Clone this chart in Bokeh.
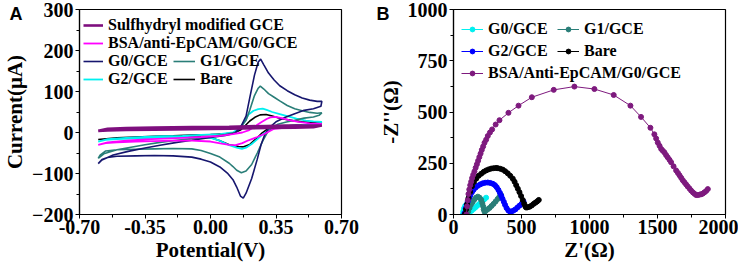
from bokeh.plotting import figure
from bokeh.layouts import row
from bokeh.models import (Range1d, FixedTicker, NumeralTickFormatter, Legend, LegendItem)
from bokeh.embed import file_html
from bokeh.resources import INLINE

# ---------------- Panel A: cyclic voltammograms (V, uA) ----------------
g0_v = [-0.60, -0.58, -0.52, -0.44, -0.35, -0.27, -0.18, -0.10, 0.00, 0.08, 0.13, 0.16, 0.19, 0.21, 0.235, 0.255, 0.268, 0.285, 0.31, 0.34, 0.37, 0.41, 0.45, 0.49, 0.53, 0.57, 0.595,
        0.59, 0.55, 0.50, 0.45, 0.40, 0.35, 0.31, 0.29, 0.27, 0.25, 0.22, 0.19, 0.175, 0.16, 0.14, 0.12, 0.09, 0.05, 0.00, -0.05, -0.10, -0.20, -0.30, -0.40, -0.50, -0.55, -0.58, -0.60]
g0_i = [-76, -67, -55, -46, -38, -31, -24, -19, -12, -7, -2, 12, 40, 85, 140, 172, 179, 165, 145, 128, 114, 102, 92, 84, 79, 76, 76,
        64, 58, 54, 46, 37, 26, 10, -5, -30, -65, -112, -148, -160, -155, -133, -115, -99, -84, -72, -65, -60, -57, -56, -57, -58, -61, -66, -76]

g1_v = [-0.60, -0.57, -0.50, -0.44, -0.35, -0.27, -0.18, -0.10, 0.00, 0.08, 0.13, 0.16, 0.19, 0.21, 0.235, 0.255, 0.266, 0.285, 0.31, 0.34, 0.37, 0.41, 0.45, 0.49, 0.53, 0.57, 0.595,
        0.58, 0.55, 0.50, 0.45, 0.40, 0.36, 0.33, 0.305, 0.28, 0.25, 0.22, 0.19, 0.165, 0.14, 0.12, 0.10, 0.05, 0.00, -0.05, -0.10, -0.20, -0.30, -0.40, -0.50, -0.56, -0.59, -0.60]
g1_i = [-63, -52, -42, -37, -30, -24, -19, -15, -10, -5, 0, 12, 30, 55, 90, 108, 113, 106, 95, 86, 77, 66, 58, 53, 49, 47, 48,
        42, 38, 35, 30, 25, 20, 12, 1, -20, -50, -78, -94, -98, -92, -83, -75, -60, -51, -44, -40, -39, -40, -41, -42, -45, -55, -63]

g2_v = [-0.60, -0.55, -0.45, -0.35, -0.25, -0.15, -0.05, 0.05, 0.12, 0.15, 0.18, 0.203, 0.23, 0.255, 0.279, 0.30, 0.33, 0.37, 0.41, 0.46, 0.51, 0.55, 0.595,
        0.58, 0.54, 0.49, 0.42, 0.36, 0.31, 0.28, 0.254, 0.22, 0.19, 0.168, 0.14, 0.10, 0.05, 0.00, -0.10, -0.20, -0.30, -0.40, -0.50, -0.56, -0.60]
g2_i = [-22, -16, -13, -11, -9, -8, -6, -4, 0, 9, 25, 44, 53, 57, 58, 55, 50, 45, 40, 34, 29, 27, 26,
        22, 20, 18, 16, 13, 5, -4, -15, -28, -37, -40, -37, -31, -20, -13, -12, -12, -13, -14, -16, -18, -22]

bare_v = [-0.60, -0.50, -0.40, -0.30, -0.20, -0.10, 0.00, 0.08, 0.13, 0.16, 0.186, 0.21, 0.237, 0.265, 0.297, 0.33, 0.36, 0.39, 0.44, 0.49, 0.55, 0.595,
          0.57, 0.52, 0.46, 0.40, 0.35, 0.322, 0.30, 0.271, 0.24, 0.21, 0.177, 0.15, 0.10, 0.05, 0.00, -0.10, -0.20, -0.30, -0.40, -0.50, -0.60]
bare_i = [-17, -13, -11, -9, -8, -6, -5, -3, 0, 6, 17, 28, 37, 43, 44, 40, 36, 33, 29, 26, 24, 23,
          20, 19, 18, 16, 14, 13, 7, -3, -17, -29, -35, -34, -30, -20, -12, -10, -10, -11, -12, -14, -17]

bsa_v = [-0.60, -0.55, -0.45, -0.35, -0.25, -0.15, -0.05, 0.05, 0.12, 0.17, 0.203, 0.24, 0.271, 0.30, 0.32, 0.348, 0.38, 0.42, 0.47, 0.53, 0.595,
         0.56, 0.50, 0.44, 0.38, 0.34, 0.29, 0.25, 0.203, 0.17, 0.134, 0.10, 0.06, 0.00, -0.10, -0.20, -0.30, -0.40, -0.50, -0.56, -0.60]
bsa_i = [-30, -24, -20, -17, -15, -13, -11, -8, -4, 0, 5, 16, 25, 33, 37, 38, 35, 30, 26, 22, 21,
         18, 16, 14, 11, 9, -3, -11, -19, -26, -31, -30, -27, -22, -20, -20, -21, -22, -24, -26, -30]

sh_v = [-0.60, -0.55, -0.45, -0.30, -0.10, 0.10, 0.20, 0.30, 0.40, 0.50, 0.595,
        0.55, 0.45, 0.30, 0.10, -0.10, -0.30, -0.45, -0.55, -0.60]
sh_i = [4, 9, 11, 12, 13, 14, 15, 16, 17, 17, 17,
        13, 12, 11, 9, 8, 7, 6, 5, 4]

a_xticks = [-0.70, -0.35, 0.00, 0.35, 0.70]
a_xminor = [-0.525, -0.175, 0.175, 0.525]
a_yticks = [-200, -100, 0, 100, 200, 300]
a_yminor = [-150, -50, 50, 150, 250]

# ---------------- Panel B: Nyquist plots (ohm) ----------------
b_g0_zr = [68, 72, 78, 86, 95, 104, 112, 118, 123, 135, 150, 165, 180, 195, 210, 225, 240]
b_g0_zi = [0, 15, 30, 42, 47, 44, 35, 22, 14, 20, 28, 37, 46, 55, 64, 73, 82]

b_g1_zr = [100, 108, 118, 128, 140, 152, 165, 179, 192, 204, 212, 218, 222, 228, 238, 250, 265, 280, 295, 310, 325, 338, 350]
b_g1_zi = [2, 15, 32, 48, 60, 72, 82, 87, 82, 71, 55, 40, 25, 14, 18, 25, 32, 42, 52, 64, 76, 87, 95]

b_g2_zr = [81, 90, 97, 105, 114, 123, 135, 147, 162, 179, 197, 215, 233, 252, 270, 289, 305, 318, 330, 341, 351, 360, 370, 379, 390, 403, 415, 424, 440, 455, 470, 485, 500, 515]
b_g2_zi = [6, 30, 48, 64, 80, 93, 108, 120, 131, 140, 147, 152, 155, 156, 154, 150, 143, 133, 120, 106, 91, 77, 62, 47, 32, 20, 14, 13, 19, 25, 34, 43, 52, 63]

b_bare_zr = [85, 92, 100, 110, 122, 136, 150, 167, 185, 204, 222, 240, 258, 277, 295, 313, 326, 344, 362, 380, 399, 417, 436, 449, 461, 473, 485, 497, 509, 520, 528, 534, 545, 560, 575, 590, 603, 615, 627]
b_bare_zi = [3, 25, 50, 80, 110, 138, 158, 175, 189, 199, 208, 215, 220, 224, 226, 227, 226, 223, 219, 211, 201, 189, 175, 160, 143, 126, 109, 90, 71, 52, 40, 34, 35, 38, 44, 52, 58, 64, 71]

b_bsa_zr = [95, 100, 105, 110, 116, 123, 130, 137, 145, 154, 163, 172, 181, 190, 199, 208, 218, 228, 240, 252, 268, 284, 310, 338, 404, 478, 576, 737, 889, 1036, 1178, 1301, 1379, 1448,
            1477, 1490, 1502, 1515, 1527, 1539, 1551, 1563, 1575, 1588, 1600, 1618, 1637, 1650, 1662, 1674, 1686, 1698, 1710, 1722, 1735, 1747, 1760, 1772, 1784, 1797, 1810, 1822, 1833, 1845, 1858, 1870]
b_bsa_zi = [0, 40, 70, 100, 122, 143, 160, 178, 194, 210, 228, 245, 262, 280, 297, 315, 332, 350, 365, 383, 400, 415, 439, 460, 496, 531, 572, 608, 624, 612, 583, 531, 476, 423,
            391, 371, 351, 335, 320, 311, 303, 290, 279, 267, 255, 235, 215, 203, 191, 179, 167, 157, 147, 137, 127, 117, 108, 101, 95, 95, 97, 99, 102, 108, 115, 124]

b_xticks = [0, 500, 1000, 1500, 2000]
b_xminor = [250, 750, 1250, 1750]
b_yticks = [0, 250, 500, 750, 1000]
b_yminor = [125, 375, 625, 875]

SERIF = "Liberation Serif"
SANS = "Liberation Sans"
FRAME_H = 200   # observed frame height in px (both panels share it)


def style(p, xt, xm, yt, ym):
    p.grid.visible = False
    p.outline_line_color = "black"
    p.outline_line_width = 1.2
    p.background_fill_color = "white"
    p.border_fill_color = "white"
    for ax in (p.xaxis[0], p.yaxis[0]):
        ax.axis_line_color = "black"
        ax.axis_line_width = 1.2
        ax.major_tick_line_color = "black"
        ax.minor_tick_line_color = "black"
        ax.major_tick_out = 4
        ax.major_tick_in = 0
        ax.minor_tick_out = 3
        ax.minor_tick_in = 0
        ax.major_label_text_font = SERIF
        ax.major_label_text_font_style = "bold"
        ax.major_label_text_font_size = "20px"
        ax.major_label_text_color = "black"
        ax.axis_label_text_font = SERIF
        ax.axis_label_text_font_style = "bold"
        ax.axis_label_text_font_size = "21px"
        ax.axis_label_text_color = "black"
        ax.major_label_standoff = 1
        ax.axis_label_standoff = 1
    p.yaxis[0].major_label_standoff = 2
    p.yaxis[0].axis_label_standoff = 2
    p.xaxis[0].ticker = FixedTicker(ticks=xt, minor_ticks=xm)
    p.yaxis[0].ticker = FixedTicker(ticks=yt, minor_ticks=ym)


def make_legend(items, loc, rowh, glyph_w, glyph_h):
    return Legend(items=items, location=loc, orientation="vertical",
                  background_fill_alpha=0, border_line_alpha=0, padding=0, margin=0,
                  spacing=0, glyph_width=glyph_w, glyph_height=glyph_h, label_height=rowh,
                  label_standoff=5, label_text_font=SERIF, label_text_font_style="bold",
                  label_text_font_size="16px", label_text_color="black")


def panel_letter(p, text, offset):
    t = p.title
    t.text = text
    t.align = "left"
    t.vertical_align = "bottom"
    t.offset = offset
    t.text_font = SANS
    t.text_font_style = "bold"
    t.text_font_size = "18px"
    t.text_color = "black"
    try:
        t.standoff = -28
    except Exception:
        t.standoff = 0


# ---------------- Figure A ----------------
pA = figure(width=375, height=264, output_backend="svg", toolbar_location=None,
            x_range=Range1d(-0.70, 0.70), y_range=Range1d(-200, 300),
            x_axis_label="Potential(V)", y_axis_label="Current(\u03bcA)",
            min_border_left=70, min_border_right=34, min_border_top=9, min_border_bottom=40)
style(pA, a_xticks, a_xminor, a_yticks, a_yminor)
pA.xaxis[0].formatter = NumeralTickFormatter(format="0.00")

rBare = pA.line(bare_v, bare_i, line_color="black", line_width=1.6)
rG2 = pA.line(g2_v, g2_i, line_color="#00F0F0", line_width=1.8)
rG1 = pA.line(g1_v, g1_i, line_color="#2A7E78", line_width=1.6)
rG0 = pA.line(g0_v, g0_i, line_color="#16166E", line_width=1.6)
rBSA = pA.line(bsa_v, bsa_i, line_color="#FF00FF", line_width=1.8)
rSH = pA.line(sh_v, sh_i, line_color="#7E0F7E", line_width=2.6)

legA1 = make_legend([LegendItem(label="Sulfhydryl modified GCE", renderers=[rSH]),
                     LegendItem(label="BSA/anti-EpCAM/G0/GCE", renderers=[rBSA]),
                     LegendItem(label="G0/GCE", renderers=[rG0]),
                     LegendItem(label="G2/GCE", renderers=[rG2])], (4, FRAME_H - 74), 18, 20, 18)
legA2 = make_legend([LegendItem(label="G1/GCE", renderers=[rG1]),
                     LegendItem(label="Bare", renderers=[rBare])], (94, FRAME_H - 74), 18, 22, 18)
pA.add_layout(legA1)
pA.add_layout(legA2)
panel_letter(pA, "A", -70)

# ---------------- Figure B ----------------
pB = figure(width=363, height=264, output_backend="svg", toolbar_location=None,
            x_range=Range1d(0, 2000), y_range=Range1d(0, 1000),
            x_axis_label="Z'(\u03a9)", y_axis_label="-Z''(\u03a9)",
            min_border_left=77, min_border_right=13, min_border_top=9, min_border_bottom=40)
style(pB, b_xticks, b_xminor, b_yticks, b_yminor)

series = [
    (b_g0_zr, b_g0_zi, "#00F0F0"),
    (b_g1_zr, b_g1_zi, "#2A7E78"),
    (b_g2_zr, b_g2_zi, "#0000FF"),
    (b_bare_zr, b_bare_zi, "black"),
    (b_bsa_zr, b_bsa_zi, "#7E1A7E"),
]
rendB = []
for zr, zi, c in series:
    l = pB.line(zr, zi, line_color=c, line_width=1)
    s = pB.scatter(zr, zi, size=5, fill_color=c, line_color=c)
    rendB.append([l, s])

legB1 = make_legend([LegendItem(label="G0/GCE", renderers=rendB[0]),
                     LegendItem(label="G2/GCE", renderers=rendB[2]),
                     LegendItem(label="BSA/Anti-EpCAM/G0/GCE", renderers=rendB[4])], (8, FRAME_H - 70), 22, 22, 12)
legB2 = make_legend([LegendItem(label="G1/GCE", renderers=rendB[1]),
                     LegendItem(label="Bare", renderers=rendB[3])], (104, FRAME_H - 48), 22, 22, 12)
pB.add_layout(legB1)
pB.add_layout(legB2)
panel_letter(pB, "B", -77)

layout = row(pA, pB)
open("out.html", "w").write(file_html(layout, INLINE))
